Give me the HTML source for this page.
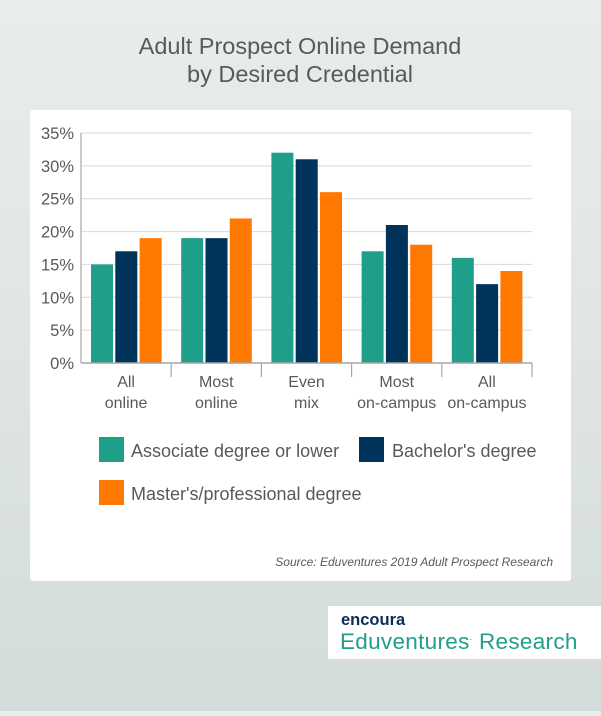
<!DOCTYPE html>
<html><head><meta charset="utf-8"><style>
html,body{margin:0;padding:0;}
body{width:601px;height:711px;overflow:hidden;background:linear-gradient(180deg,#e9ecec 0%,#dde3e3 60%,#d3dbdb 100%);font-family:"Liberation Sans",sans-serif;}
</style></head><body>
<svg id="chart" width="601" height="711" xmlns="http://www.w3.org/2000/svg" font-family="Liberation Sans, sans-serif">
<text x="300" y="54" text-anchor="middle" font-size="23.5" fill="#595959">Adult Prospect Online Demand</text>
<text x="300" y="82" text-anchor="middle" font-size="23.5" fill="#595959">by Desired Credential</text>
<rect x="30" y="110" width="541" height="471" rx="3" fill="#ffffff"/>
<g id="grid"></g>
<g id="bars"></g>
<g id="axes"></g>
<g>
<rect x="99" y="437" width="25" height="25" fill="#1f9e89"/>
<text x="131" y="457" font-size="18" fill="#595959">Associate degree or lower</text>
<rect x="359" y="437" width="25" height="25" fill="#003359"/>
<text x="392" y="457" font-size="18" fill="#595959">Bachelor's degree</text>
<rect x="99" y="480" width="25" height="25" fill="#ff7900"/>
<text x="131" y="500" font-size="18" fill="#595959">Master's/professional degree</text>
</g>
<text x="553" y="566" text-anchor="end" font-size="12" font-style="italic" fill="#595959">Source: Eduventures 2019 Adult Prospect Research</text>
<rect x="328" y="606" width="273" height="53" fill="#ffffff"/>
<text x="341" y="625" font-size="16.5" font-weight="bold" fill="#0d2d55">encoura</text>
<text x="340" y="649" font-size="22.5" fill="#1f9e89" letter-spacing="0.3">Eduventures<tspan font-size="9" dy="-9">.</tspan><tspan dy="9"> Research</tspan></text>
</svg>
<script>
const categories=[["All","online"],["Most","online"],["Even","mix"],["Most","on-campus"],["All","on-campus"]];
const associate=[15,19,32,17,16];
const bachelor=[17,19,31,21,12];
const master=[19,22,26,18,14];
const ticks=[0,5,10,15,20,25,30,35];
const seriesNames=["associate","bachelor","master"];
const seriesColors=["#1f9e89","#003359","#ff7900"];
const NS="http://www.w3.org/2000/svg";
const x0=81,x1=532,y0=363,yTop=133,yMax=35;
const gw=(x1-x0)/categories.length;
function y(v){return y0-(v/yMax)*(y0-yTop);}
function gx(i){return x0+i*gw;}
function mk(tag,attrs,parent){const e=document.createElementNS(NS,tag);for(const k in attrs)e.setAttribute(k,attrs[k]);parent.appendChild(e);return e;}
const grid=document.getElementById('grid'),bars=document.getElementById('bars'),axes=document.getElementById('axes');
ticks.forEach(t=>{
  if(t>0){const l=mk('line',{x1:x0,x2:x1,y1:y(t),y2:y(t),stroke:'#d9d9d9','stroke-width':1},grid);
  
  }
  const tx=mk('text',{x:74,y:y(t)+6,'text-anchor':'end','font-size':16.5,fill:'#595959'},axes);
  tx.textContent=t+'%';
  
  
});
[associate,bachelor,master].forEach((s,si)=>{
  s.forEach((v,i)=>{
    const r=mk('rect',{x:gx(i)+10+si*24.3,y:y(v),width:22,height:y0-y(v),fill:seriesColors[si]},bars);
    
    
  });
});
const ya=mk('line',{x1:x0,x2:x0,y1:yTop,y2:y0,stroke:'#a6a6a6','stroke-width':1.2},axes);


const xa=mk('line',{x1:x0,x2:x1,y1:y0,y2:y0,stroke:'#a6a6a6','stroke-width':1.5},axes);


for(let i=1;i<=categories.length;i++){
  const tk=mk('line',{x1:gx(i),x2:gx(i),y1:y0,y2:y0+14,stroke:'#a6a6a6','stroke-width':1.2},axes);
  
  
}
categories.forEach((c,i)=>{
  c.forEach((line,li)=>{
    const tx=mk('text',{x:gx(i)+gw/2,y:387+li*21,'text-anchor':'middle','font-size':16,fill:'#595959'},axes);
    tx.textContent=line;
    
    
  });
});
</script>
</body></html>
